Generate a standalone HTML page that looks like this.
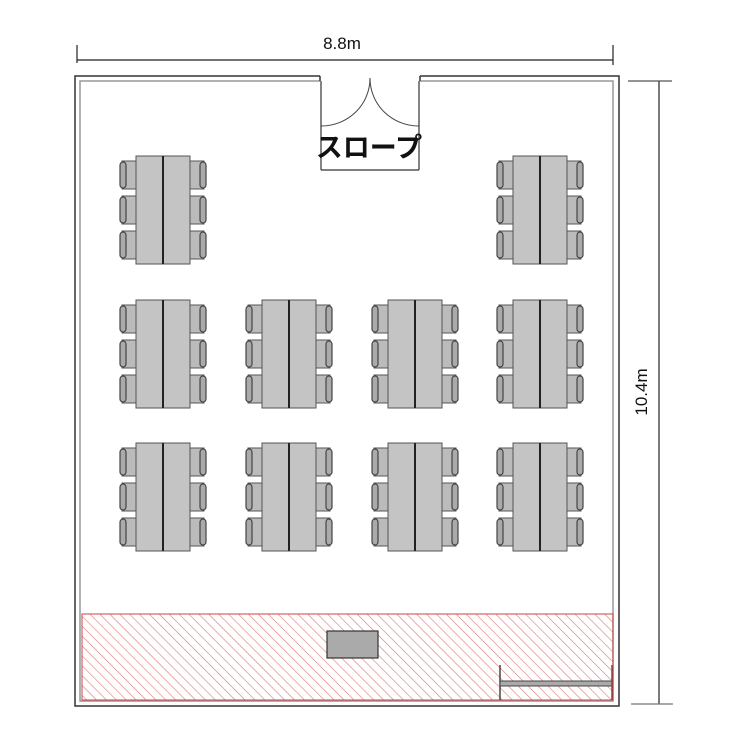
<!DOCTYPE html>
<html><head><meta charset="utf-8"><style>
html,body{margin:0;padding:0;background:#fff;width:750px;height:750px;overflow:hidden}
</style></head><body>
<svg width="750" height="750" viewBox="0 0 750 750" xmlns="http://www.w3.org/2000/svg">
<defs>
<pattern id="hatch" patternUnits="userSpaceOnUse" width="7" height="7" patternTransform="rotate(-45)">
<line x1="0" y1="0" x2="0" y2="7" stroke="#d77" stroke-width="1.2"/>
</pattern>
<g id="chairL">
<rect x="-14" y="0" width="14" height="28" fill="#bbb" stroke="#555" stroke-width="1"/>
<rect x="-16" y="1" width="6" height="26" rx="3" fill="#aaa" stroke="#444" stroke-width="1.2"/>
</g>
<g id="chairR">
<rect x="0" y="0" width="14" height="28" fill="#bbb" stroke="#555" stroke-width="1"/>
<rect x="10" y="1" width="6" height="26" rx="3" fill="#aaa" stroke="#444" stroke-width="1.2"/>
</g>
<g id="grp">
<use href="#chairL" y="5"/><use href="#chairL" y="40"/><use href="#chairL" y="75"/>
<use href="#chairR" x="54" y="5"/><use href="#chairR" x="54" y="40"/><use href="#chairR" x="54" y="75"/>
<rect x="0" y="0" width="54" height="108" fill="#c4c4c4" stroke="#555" stroke-width="1"/>
<line x1="27" y1="0" x2="27" y2="108" stroke="#222" stroke-width="2"/>
</g>
</defs>

<line x1="77" y1="60" x2="613" y2="60" stroke="#222" stroke-width="1.2"/>
<line x1="77" y1="45" x2="77" y2="63" stroke="#222" stroke-width="1.2"/>
<line x1="613" y1="45" x2="613" y2="65" stroke="#222" stroke-width="1.2"/>
<text x="342" y="49" font-family="Liberation Sans, sans-serif" font-size="17" text-anchor="middle" fill="#111">8.8m</text>
<line x1="659" y1="81" x2="659" y2="704" stroke="#222" stroke-width="1.2"/>
<line x1="628" y1="81" x2="672" y2="81" stroke="#555" stroke-width="1.2"/>
<line x1="631" y1="704" x2="673" y2="704" stroke="#777" stroke-width="1.2"/>
<text x="0" y="0" transform="translate(647,392) rotate(-90)" font-family="Liberation Sans, sans-serif" font-size="17" text-anchor="middle" fill="#111">10.4m</text>

<path d="M320 76 H75 V706 H619 V76 H420" fill="none" stroke="#333" stroke-width="1.5"/>
<path d="M320 81 H80 V701 H613 V81 H420" fill="none" stroke="#999" stroke-width="1.5"/>
<line x1="320" y1="76" x2="320" y2="81" stroke="#333" stroke-width="1.5"/>
<line x1="420" y1="76" x2="420" y2="81" stroke="#333" stroke-width="1.5"/>

<line x1="321" y1="81" x2="321" y2="170" stroke="#333" stroke-width="1.2"/>
<line x1="419" y1="81" x2="419" y2="170" stroke="#333" stroke-width="1.2"/>
<line x1="321" y1="170" x2="419" y2="170" stroke="#333" stroke-width="1.2"/>
<path d="M321 126 C348 126 370 105 370 78" fill="none" stroke="#444" stroke-width="1"/>
<path d="M419 126 C392 126 370 105 370 78" fill="none" stroke="#444" stroke-width="1"/>
<text x="369" y="157" font-family="Liberation Sans, 'Noto Sans CJK JP', sans-serif" font-size="27" font-weight="bold" text-anchor="middle" fill="#111">スロープ</text>

<use href="#grp" x="136" y="156"/>
<use href="#grp" x="513" y="156"/>
<use href="#grp" x="136" y="300"/>
<use href="#grp" x="262" y="300"/>
<use href="#grp" x="388" y="300"/>
<use href="#grp" x="513" y="300"/>
<use href="#grp" x="136" y="443"/>
<use href="#grp" x="262" y="443"/>
<use href="#grp" x="388" y="443"/>
<use href="#grp" x="513" y="443"/>

<rect x="82" y="614" width="531" height="86" fill="url(#hatch)" stroke="#c44" stroke-width="1"/>
<rect x="327" y="631" width="51" height="27" fill="#aaa" stroke="#333" stroke-width="1.2"/>
<line x1="500" y1="665" x2="500" y2="700" stroke="#444" stroke-width="1.5"/>
<rect x="500" y="681" width="112" height="5" fill="#aaa" stroke="#444" stroke-width="1"/>
<line x1="612" y1="665" x2="612" y2="700" stroke="#844" stroke-width="1.5"/>
</svg>
</body></html>
